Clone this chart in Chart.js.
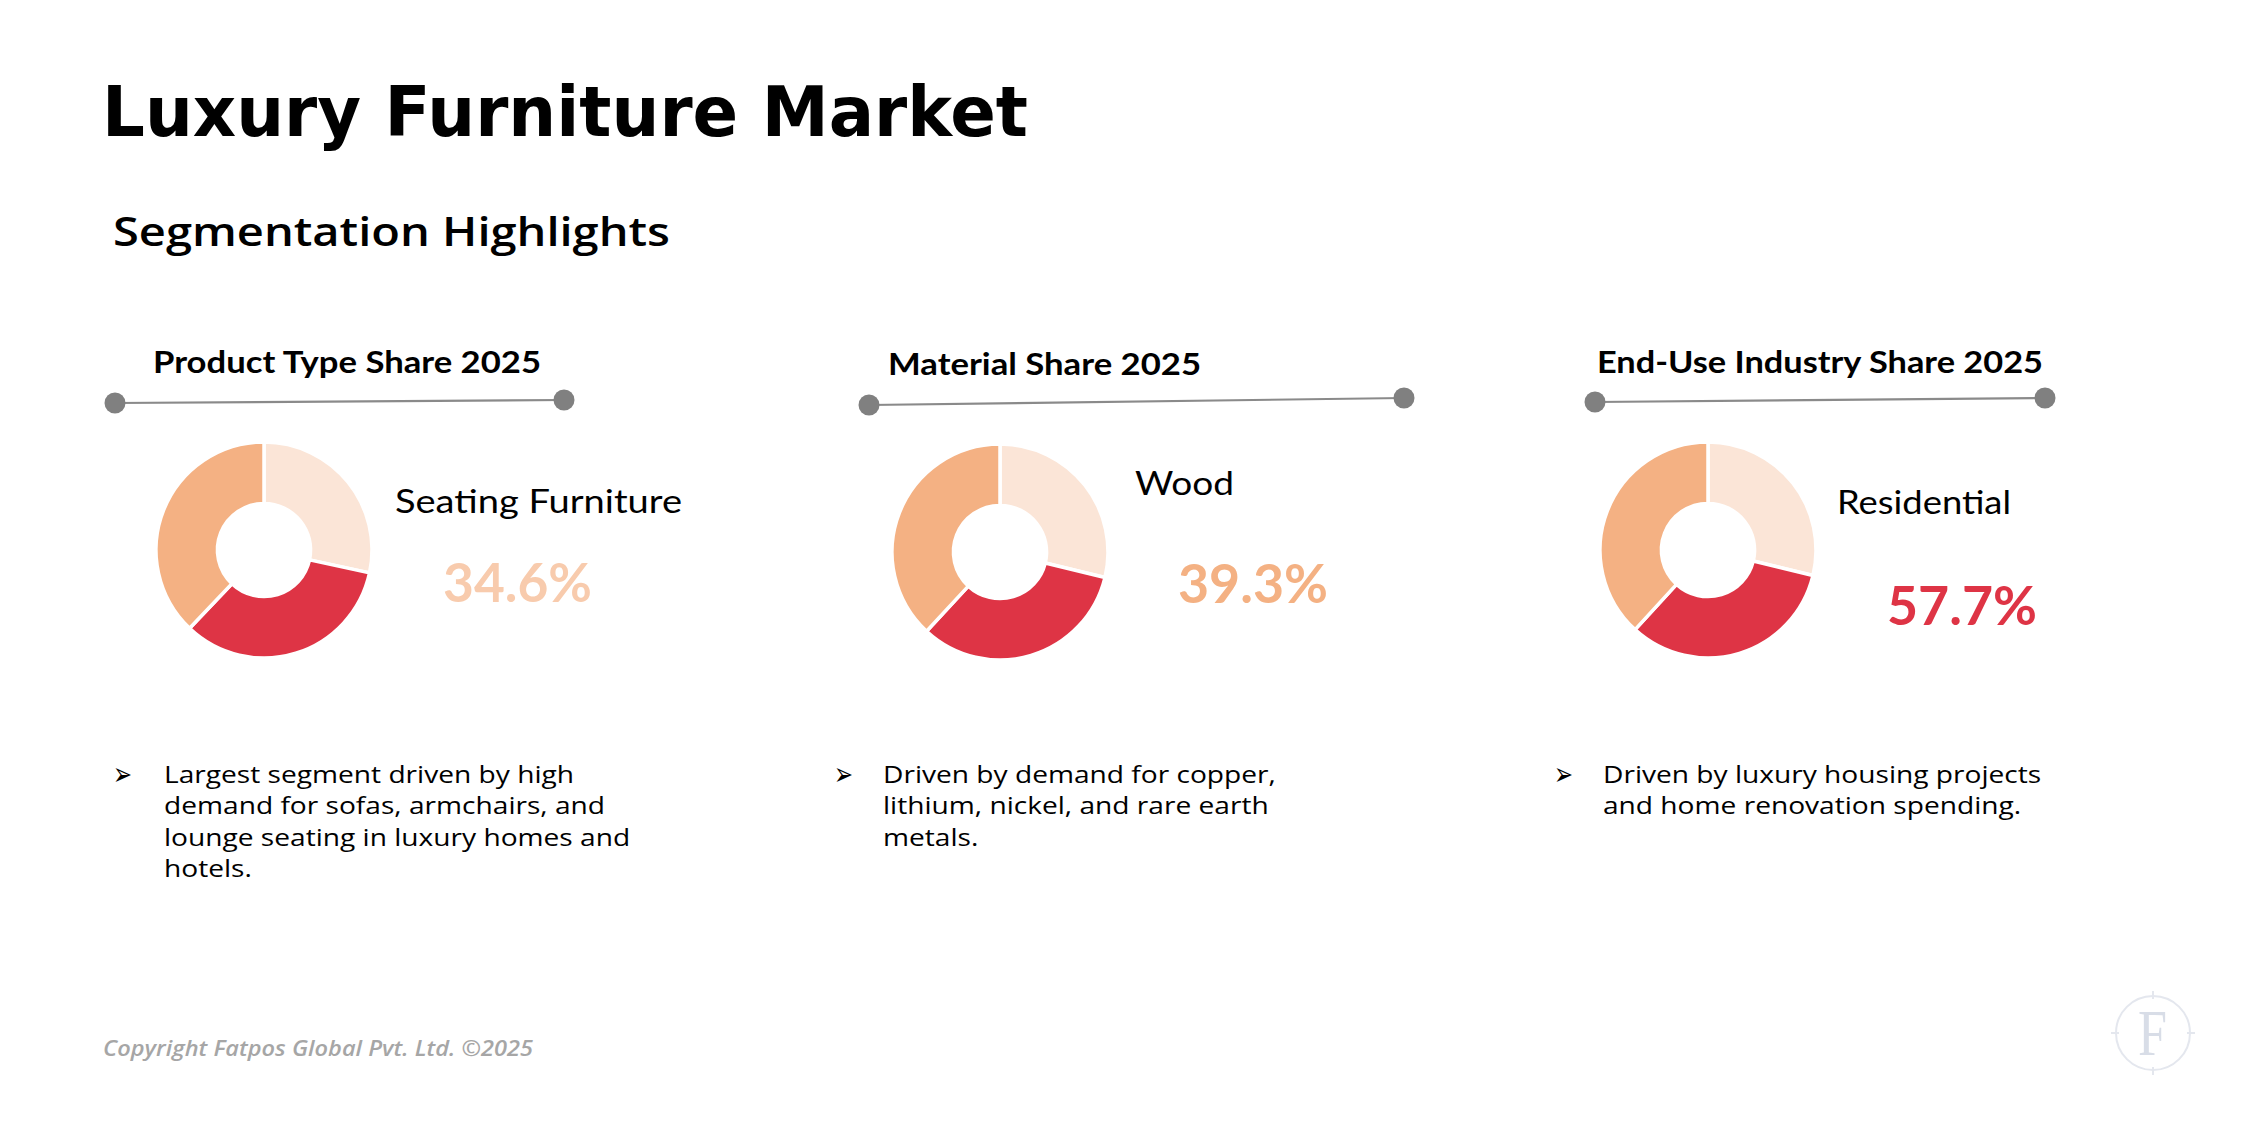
<!DOCTYPE html>
<html>
<head>
<meta charset="utf-8">
<script src="https://cdn.jsdelivr.net/npm/chart.js@4.4.1/dist/chart.umd.min.js"></script>
<style>
  html, body { margin:0; padding:0; background:#ffffff; }
  #stage { position:relative; width:2249px; height:1126px; background:#ffffff; overflow:hidden; }
  .t { position:absolute; white-space:nowrap; line-height:1; transform-origin:0 0; }
  canvas.donut { position:absolute; }
  svg#lines { position:absolute; left:0; top:0; }
</style>
</head>
<body>
<div id="stage">
  <svg id="lines" width="2249" height="1126"></svg>
</div>
<script>
// ---------------- DATA ----------------
const pageTitle = 'Luxury Furniture Market';
const pageSubtitle = 'Segmentation Highlights';
const panelTitles = ['Product Type Share 2025', 'Material Share 2025', 'End-Use Industry Share 2025'];
const leadSegments = ['Seating Furniture', 'Wood', 'Residential'];
const leadShares = [34.6, 39.3, 57.7];
const sliceLabels = ['Segment 1', 'Segment 2', 'Segment 3'];
const productTypeDonut = [28.4, 33.7, 37.9];
const materialDonut = [28.8, 33.1, 38.1];
const endUseDonut = [28.8, 33.0, 38.2];
const bulletNotes = [
  ['Largest segment driven by high', 'demand for sofas, armchairs, and', 'lounge seating in luxury homes and', 'hotels.'],
  ['Driven by demand for copper,', 'lithium, nickel, and rare earth', 'metals.'],
  ['Driven by luxury housing projects', 'and home renovation spending.']
];
const copyrightText = 'Copyright Fatpos Global Pvt. Ltd. \u00A92025';

// ---------------- LAYOUT / STYLE ----------------
const sliceColors = ['#FBE5D7', '#DE3445', '#F4B183'];
const shareColors = ['#F8CBAD', '#F4B183', '#DE3445'];
const donutSets = [productTypeDonut, materialDonut, endUseDonut];
const donutCenters = [[264, 550], [1000, 552], [1708, 550]];
const connectors = [[115, 403, 564, 400], [869, 405, 1404, 398], [1595, 402, 2045, 398]];
const panelTitlePos = [[153, 373, 388], [888, 375, 313], [1597, 373, 446]];
const segLabelPos = [[395, 513, 287], [1135, 495, 99], [1837, 514, 174]];
const sharePos = [[443, 602, 149], [1178, 603, 150], [1887, 625, 150]];
const bulletTextX = [164, 883, 1603];
const bulletGlyphX = [113, 834, 1554];
const bulletBase0 = 783, bulletStep = 31.3;

const stage = document.getElementById('stage');

function addText(txt, x, b, w, css) {
  const el = document.createElement('div');
  el.className = 't';
  el.textContent = txt;
  el.style.cssText += css;
  el.dataset.x = x; el.dataset.b = b; if (w) el.dataset.w = w;
  stage.appendChild(el);
  return el;
}
function place(el, forcedScale) {
  const x = +el.dataset.x, b = +el.dataset.b;
  el.style.left = x + 'px'; el.style.top = '0px'; el.style.transform = 'none';
  const m = document.createElement('span');
  m.style.cssText = 'display:inline-block;width:0;height:0;vertical-align:baseline;';
  el.appendChild(m);
  const off = m.offsetTop;
  el.removeChild(m);
  el.style.top = (b - off) + 'px';
  let s = forcedScale;
  if (s === undefined && el.dataset.w) {
    const aw = el.getBoundingClientRect().width;
    s = (+el.dataset.w) / aw;
  }
  if (s !== undefined) el.style.transform = 'scaleX(' + s + ')';
  return s;
}

const items = [];
items.push(addText(pageTitle, 102, 136, 926, 'font-family:"DejaVu Sans";font-weight:bold;font-size:70px;color:#000;'));
items.push(addText(pageSubtitle, 113, 246, 557, 'font-family:"Open Sans";font-weight:600;font-size:39px;color:#000;'));
for (let i = 0; i < 3; i++) {
  items.push(addText(panelTitles[i], panelTitlePos[i][0], panelTitlePos[i][1], panelTitlePos[i][2], 'font-family:Lato;font-weight:bold;font-size:31px;color:#000;'));
  items.push(addText(leadSegments[i], segLabelPos[i][0], segLabelPos[i][1], segLabelPos[i][2], 'font-family:Lato;font-weight:normal;font-size:33.5px;color:#000;'));
  items.push(addText(leadShares[i].toFixed(1) + '%', sharePos[i][0], sharePos[i][1], sharePos[i][2], 'font-family:Lato;font-weight:bold;font-size:54px;color:' + shareColors[i] + ';'));
}
items.push(addText(copyrightText, 103, 1056, 430, 'font-family:"Open Sans";font-style:italic;font-weight:600;font-size:22px;color:#A6A6A6;'));

const bulletEls = [];
const glyphEls = [];
for (let i = 0; i < 3; i++) {
  glyphEls.push(addText('\u27A2', bulletGlyphX[i], bulletBase0 + 2, 19, 'font-family:"DejaVu Sans";font-size:32px;color:#000;'));
  bulletNotes[i].forEach((line, k) => {
    bulletEls.push(addText(line, bulletTextX[i], bulletBase0 + k * bulletStep, (i === 0 && k === 0) ? 410 : 0, 'font-family:"Open Sans";font-weight:normal;font-size:24.5px;color:#000;'));
  });
}

// logo
const logo = document.createElement('div');
logo.style.cssText = 'position:absolute;left:2115px;top:995px;width:72px;height:72px;border:2px solid #E4E7EE;border-radius:50%;';
stage.appendChild(logo);
const logoF = addText('F', 2138, 1055, 29, 'font-family:"Liberation Serif";font-size:66px;color:#D8DDE7;');
items.push(logoF);

// connectors + logo ticks
const svg = document.getElementById('lines');
let svgHtml = '';
connectors.forEach(c => {
  svgHtml += `<line x1="${c[0]}" y1="${c[1]}" x2="${c[2]}" y2="${c[3]}" stroke="#8A8A8A" stroke-width="2.2"/>`;
  svgHtml += `<circle cx="${c[0]}" cy="${c[1]}" r="10.5" fill="#808080"/>`;
  svgHtml += `<circle cx="${c[2]}" cy="${c[3]}" r="10.5" fill="#808080"/>`;
});
svgHtml += '<g stroke="#E4E7EE" stroke-width="2">' +
  '<line x1="2153" y1="991" x2="2153" y2="999"/><line x1="2153" y1="1067" x2="2153" y2="1075"/>' +
  '<line x1="2111" y1="1033" x2="2119" y2="1033"/><line x1="2187" y1="1033" x2="2195" y2="1033"/></g>';
svg.innerHTML = svgHtml;

function layoutAll() {
  items.forEach(el => place(el));
  glyphEls.forEach(el => place(el));
  const s = place(bulletEls[0]);
  for (let j = 1; j < bulletEls.length; j++) place(bulletEls[j], s);
}

// donuts
donutSets.forEach((vals, i) => {
  const cv = document.createElement('canvas');
  cv.className = 'donut';
  cv.width = 240; cv.height = 240;
  cv.style.left = (donutCenters[i][0] - 120) + 'px';
  cv.style.top = (donutCenters[i][1] - 120) + 'px';
  stage.appendChild(cv);
  new Chart(cv.getContext('2d'), {
    type: 'doughnut',
    data: {
      labels: sliceLabels,
      datasets: [{
        data: vals,
        backgroundColor: sliceColors,
        borderColor: '#ffffff',
        borderWidth: 3.5,
        hoverOffset: 0,
        hoverBorderWidth: 3.5
      }]
    },
    options: {
      responsive: false,
      animation: false,
      events: [],
      radius: 108,
      cutout: 51,
      rotation: 0,
      layout: { padding: 0 },
      plugins: { legend: { display: false }, tooltip: { enabled: false }, title: { display: false } }
    }
  });
});

layoutAll();
if (document.fonts && document.fonts.ready) document.fonts.ready.then(layoutAll);
</script>
</body>
</html>
